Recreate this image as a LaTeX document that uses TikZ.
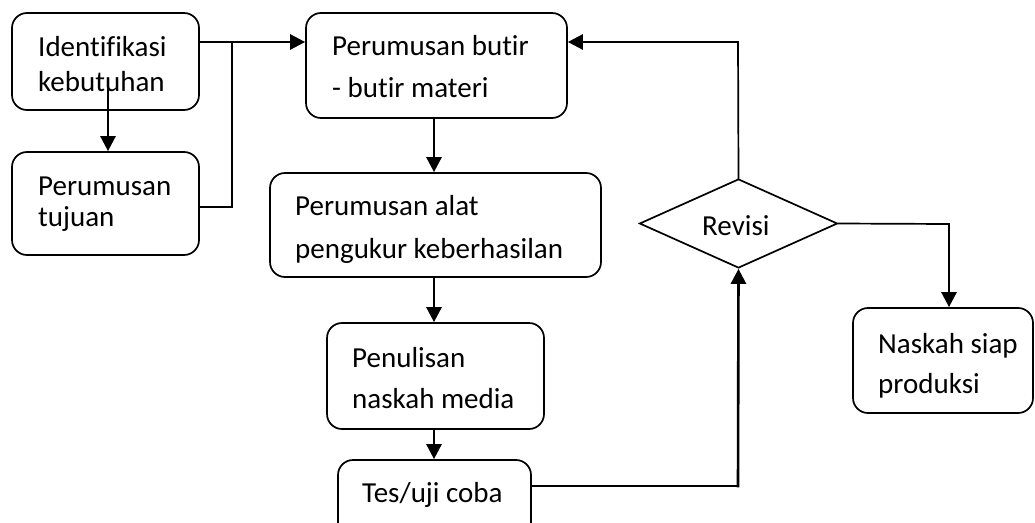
\documentclass[tikz,border=0pt]{standalone}
\usepackage{fontspec}
\setmainfont[Ligatures={NoCommon}]{Carlito}
\usetikzlibrary{arrows.meta,shapes.geometric}
\begin{document}
\begin{tikzpicture}[x=1pt,y=-1pt,
  box/.style={draw, line width=1.7pt, rounded corners=15pt, inner sep=0pt},
  txt/.style={anchor=base west, inner sep=0pt, align=left},
  ln/.style={line width=1.7pt, line cap=rect},
  arr/.style={line width=2.6pt, line cap=rect, -{Triangle[length=15pt,width=15pt]}}]
\clip (0,0) rectangle (1035,522);
\fill[white] (0,0) rectangle (1035,522);
% boxes
\node[box, minimum width=187pt, minimum height=97pt]  (b1) at (105.5,61.5) {};
\node[box, minimum width=187pt, minimum height=103pt] (b2) at (105.5,203.5) {};
\node[box, minimum width=261pt, minimum height=105pt] (b3) at (436.5,65.5) {};
\node[box, minimum width=331pt, minimum height=104pt] (b4) at (435.5,225) {};
\node[box, minimum width=217pt, minimum height=106pt] (b5) at (435.5,376) {};
\node[box, minimum width=193pt, minimum height=80pt]  (b6) at (434.5,500) {};
\node[box, minimum width=180pt, minimum height=105pt] (b7) at (943,360.5) {};
\node[draw, line width=1.7pt, diamond, minimum width=198pt, minimum height=89pt, inner sep=0pt, aspect=2.2] (d) at (738.5,223.5) {};
% texts (anchored at the baseline of the last line)
\node[txt, font=\fontsize{29}{35}\selectfont] (t1) at (38,91) {Identifikasi\\kebutuhan};
\node[txt, font=\fontsize{29}{31}\selectfont] (t2) at (38,226.5) {Perumusan\\tujuan};
\node[txt, font=\fontsize{29}{42}\selectfont] (t3) at (332,97) {Perumusan butir\\- butir materi};
\node[txt, font=\fontsize{29}{43}\selectfont] (t4) at (295,258) {Perumusan alat\\pengukur keberhasilan};
\node[txt, font=\fontsize{29}{41}\selectfont] (t5) at (352,408) {Penulisan\\naskah media};
\node[txt, font=\fontsize{29}{35}\selectfont] (t6) at (362,502) {Tes/uji coba};
\node[txt, font=\fontsize{29}{40}\selectfont] (t7) at (878,393) {Naskah siap\\produksi};
\node[txt, font=\fontsize{29}{35}\selectfont] (t8) at (702,235) {Revisi};
% helper coordinates
\coordinate (j) at (232,42);
\coordinate (sp) at (434,0);
\coordinate (k1) at (738,486);
\coordinate (k2) at (738,42);
\coordinate (k3) at (949,224);
% connectors
\draw[arr] ([xshift=2.5pt,yshift=22pt]b1.south) -- ([xshift=2.5pt]b2.north);
\draw[arr] (b1.east |- j) -- (b3.west |- j);
\draw[ln] ([yshift=-3.5pt]b2.east) -| (j);
\draw[arr] (b3.south -| sp) -- (b4.north -| sp);
\draw[arr] (b4.south -| sp) -- (b5.north -| sp);
\draw[arr] (b5.south -| sp) -- (b6.north -| sp);
\draw[ln] (b6.east |- k1) -- (k1);
\draw[arr] (k1) -- (d.south);
\draw[ln] (d.north) -- (k2);
\draw[arr] (k2) -- (b3.east |- k2);
\draw[ln] (d.east) -- (k3);
\draw[arr] (k3) -- (b7.north -| k3);
\end{tikzpicture}
\end{document}
